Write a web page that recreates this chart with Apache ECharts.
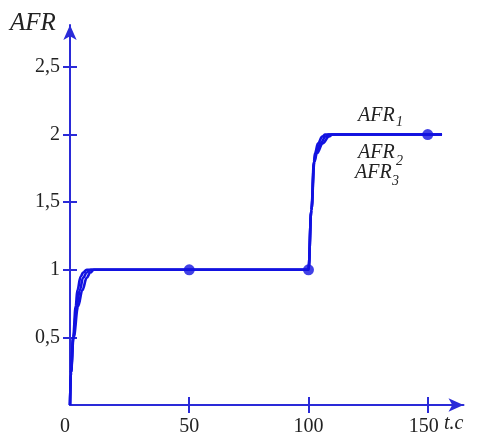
<!DOCTYPE html>
<html><head><meta charset="utf-8">
<script src="https://cdn.jsdelivr.net/npm/echarts@6/dist/echarts.min.js"></script>
<style>html,body{margin:0;padding:0;background:#fff}#c{width:482px;height:434px}</style>
</head><body><div id="c"></div>
<script>
// ---- data ----
const afr1T = [0, 0.4, 1.3, 2.4, 3.1, 4.5, 5.5, 7, 50, 100, 101.2, 102.3, 102.7, 104, 105.8, 107, 156];
const afr1Y = [0, 0.24, 0.5, 0.73, 0.85, 0.95, 0.98, 1, 1, 1, 1.44, 1.8, 1.86, 1.935, 1.985, 2, 2];
const afr2T = [0, 0.4, 1.4, 2.8, 4.1, 5.5, 7, 8.7, 50, 100, 101.2, 102.4, 103.1, 105, 107.2, 108.5, 156];
const afr2Y = [0, 0.24, 0.5, 0.73, 0.85, 0.94, 0.98, 1, 1, 1, 1.44, 1.8, 1.86, 1.935, 1.985, 2, 2];
const afr3T = [0, 0.4, 1.5, 3.4, 5.2, 7, 8.5, 10, 50, 100, 101.2, 102.5, 103.5, 106, 108.6, 110, 156];
const afr3Y = [0, 0.24, 0.5, 0.73, 0.85, 0.94, 0.98, 1, 1, 1, 1.44, 1.8, 1.86, 1.935, 1.985, 2, 2];
const markT = [50, 100, 150];
const markY = [1, 1, 2];
const xTickValues = [50, 100, 150];
const xLabelValues = [0, 50, 100, 150];
const xLabelTexts = ['0', '50', '100', '150'];
const yTickValues = [0.5, 1, 1.5, 2, 2.5];
const yLabelTexts = ['0,5', '1', '1,5', '2', '2,5'];
const seriesNames = ['AFR', 'AFR', 'AFR'];
const seriesSubs = ['1', '2', '3'];
const yAxisName = 'AFR';
const xAxisName = 't.c';

const zip = (a, b) => a.map((v, i) => [v, b[i]]);
const lineColor = '#1212e0';
const axisColor = '#2a2ad8';
const textColor = '#222';

// pick an installed serif font (Times-like first)
function pickSerif() {
  const cands = ['Liberation Serif', 'Times New Roman', 'Tinos', 'Nimbus Roman', 'Times', 'DejaVu Serif'];
  const c = document.createElement('canvas').getContext('2d');
  const probe = 'AFR 0,5 150 t.c mmmWWWiii';
  for (const base of ['monospace', 'sans-serif']) {
    c.font = '40px ' + base;
    const bw = c.measureText(probe).width;
    for (const f of cands) {
      c.font = '40px "' + f + '", ' + base;
      if (Math.abs(c.measureText(probe).width - bw) > 0.5) return f;
    }
  }
  return 'serif';
}
const serif = pickSerif();

const X_MAX = 165, Y_MAX = 2.81;

function xAx(inside, showLine, showLabel) {
  return {
    type: 'value', min: 0, max: X_MAX, position: 'bottom',
    splitLine: { show: false },
    axisLine: showLine ? { show: true, onZero: false, lineStyle: { color: axisColor, width: 2 },
      symbol: ['none', 'arrow'], symbolSize: [10, 15] } : { show: false },
    axisTick: { show: true, inside: inside, length: 8, customValues: xTickValues,
      lineStyle: { color: axisColor, width: 2 } },
    axisLabel: showLabel ? {
      show: true, customValues: xLabelValues, margin: 12,
      fontFamily: serif, fontSize: 20, color: textColor,
      formatter: v => {
        const t = xLabelTexts[xLabelValues.indexOf(v)];
        if (v === 0) return '{z|' + t + '}';
        if (v === 150) return '{e|' + t + '}';
        return t;
      },
      rich: {
        z: { fontFamily: serif, fontSize: 20, color: textColor, padding: [0, 10, 0, 0] },
        e: { fontFamily: serif, fontSize: 20, color: textColor, padding: [0, 8, 0, 0] }
      }
    } : { show: false }
  };
}
function yAx(inside, showLine, showLabel) {
  return {
    type: 'value', min: 0, max: Y_MAX, position: 'left',
    splitLine: { show: false },
    axisLine: showLine ? { show: true, onZero: false, lineStyle: { color: axisColor, width: 2 },
      symbol: ['none', 'arrow'], symbolSize: [10, 15] } : { show: false },
    axisTick: { show: true, inside: inside, length: 7, customValues: yTickValues,
      lineStyle: { color: axisColor, width: 2 } },
    axisLabel: showLabel ? {
      show: true, customValues: yTickValues, margin: 10,
      fontFamily: serif, fontSize: 20, color: textColor,
      formatter: v => yLabelTexts[yTickValues.indexOf(v)]
    } : { show: false }
  };
}

const chart = echarts.init(document.getElementById('c'), null, { renderer: 'canvas' });

const lines = [[afr1T, afr1Y], [afr2T, afr2Y], [afr3T, afr3Y]].map((p, i) => ({
  type: 'line', name: seriesNames[i] + seriesSubs[i],
  xAxisIndex: 0, yAxisIndex: 0,
  data: zip(p[0], p[1]),
  showSymbol: false, smooth: 0.4, smoothMonotone: 'x',
  lineStyle: { color: lineColor, width: 2.6 },
  animation: false, z: 3
}));

const graphics = [
  { type: 'text', left: 10, top: 11, style: { text: yAxisName, fontFamily: serif, fontStyle: 'italic', fontSize: 25, fill: textColor } },
  { type: 'text', left: 444, top: 414, style: { text: xAxisName, fontFamily: serif, fontStyle: 'italic', fontSize: 20, fill: textColor } }
];
const lblPos = [[358, 106, 396, 115], [358, 143, 396, 154], [355, 163, 392, 174]];
seriesNames.forEach((n, i) => {
  const p = lblPos[i];
  graphics.push({ type: 'text', left: p[0], top: p[1], style: { text: n, fontFamily: serif, fontStyle: 'italic', fontSize: 20, fill: textColor } });
  graphics.push({ type: 'text', left: p[2], top: p[3], style: { text: seriesSubs[i], fontFamily: serif, fontStyle: 'italic', fontSize: 14, fill: textColor } });
});

chart.setOption({
  animation: false,
  backgroundColor: '#fff',
  grid: { left: 70, right: 18.5, top: 25, bottom: 29, containLabel: false, outerBoundsMode: 'none' },
  xAxis: [xAx(false, true, true), xAx(true, false, false)],
  yAxis: [yAx(false, true, true), yAx(true, false, false)],
  series: lines.concat([{
    type: 'scatter', data: zip(markT, markY), symbol: 'circle', symbolSize: 11,
    itemStyle: { color: lineColor }, z: 5, animation: false
  }]),
  graphic: graphics
});
</script></body></html>
